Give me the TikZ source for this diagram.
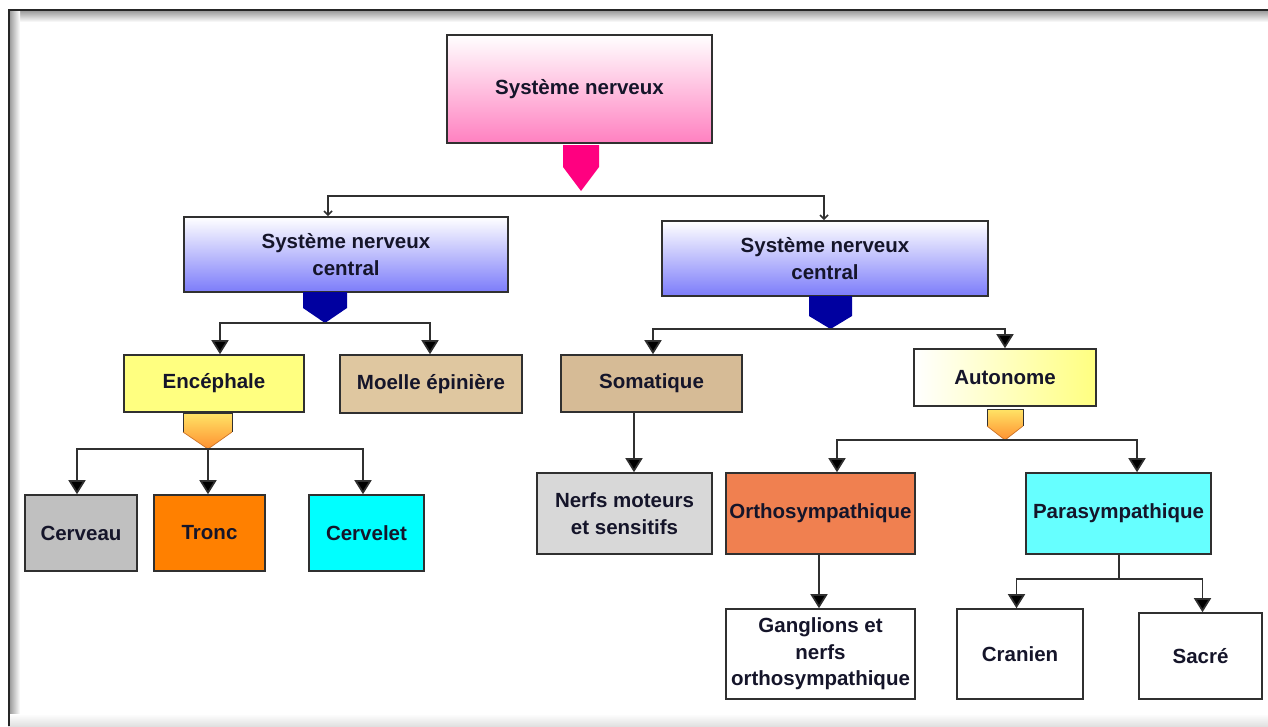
\documentclass[tikz,border=0pt]{standalone}
\usepackage{fontspec}
\setmainfont{Liberation Sans}
\usetikzlibrary{arrows.meta,calc}
\definecolor{txt}{HTML}{15152A}
\definecolor{bd}{HTML}{303030}
\definecolor{pinkc}{HTML}{FF0080}
\definecolor{pinkbot}{HTML}{FF80C0}
\definecolor{bluebot}{HTML}{7C7CFA}
\definecolor{dblue}{HTML}{0000A0}
\definecolor{yel}{HTML}{FFFF80}
\definecolor{moelle}{HTML}{DFC7A0}
\definecolor{soma}{HTML}{D6BB96}
\definecolor{cerv}{HTML}{C0C0C0}
\definecolor{tronc}{HTML}{FF8000}
\definecolor{cyanc}{HTML}{00FFFF}
\definecolor{nerfs}{HTML}{D8D8D8}
\definecolor{ortho}{HTML}{F08050}
\definecolor{para}{HTML}{66FFFF}
\definecolor{ortop}{HTML}{FFE466}
\definecolor{orbot}{HTML}{FF9030}
\tikzset{
  box/.style={draw=bd, line width=1.6pt, inner sep=0pt, align=center, text=txt,
    font=\fontsize{20.5}{26.5}\selectfont\bfseries},
  conn/.style={draw=bd, line width=1.7pt},
  arr/.style={conn, -{Triangle[width=17pt,length=14pt,fill=black]}},
  sarr/.style={conn, -{Straight Barb[length=4pt,width=8pt]}},
}
\begin{document}
\begin{tikzpicture}[x=1pt,y=-1pt]
\useasboundingbox (0,0) rectangle (1268,726);
\fill[white] (0,0) rectangle (1268,726);
% frame shading
\shade[top color=black!45, bottom color=white] (8,9) rectangle (1268,22);
\shade[left color=black!45, right color=white] (8,9) rectangle (20,726);
\shade[top color=white, bottom color=black!12] (8,714) rectangle (1268,726);
\draw[black!85, line width=2pt] (9,726) -- (9,10) -- (1268,10);

% boxes
\node[box, minimum width=265pt, minimum height=108pt, top color=white, bottom color=pinkbot] (root) at (579.5,89) {Système nerveux};
\node[box, minimum width=324pt, minimum height=75pt, top color=white, bottom color=bluebot] (snc1) at (346,254.5) {Système nerveux\\central};
\node[box, minimum width=326pt, minimum height=75pt, top color=white, bottom color=bluebot] (snc2) at (825,258.5) {Système nerveux\\central};
\node[box, minimum width=180pt, minimum height=57pt, fill=yel] (enc) at (214,383.5) {Encéphale};
\node[box, minimum width=182pt, minimum height=58pt, fill=moelle] (moe) at (431,384) {Moelle épinière};
\node[box, minimum width=181pt, minimum height=57pt, fill=soma] (som) at (651.5,383.5) {Somatique};
\node[box, minimum width=182pt, minimum height=57pt, left color=white, right color=yel] (aut) at (1005,377.5) {Autonome};
\node[box, minimum width=112pt, minimum height=76pt, fill=cerv] (cer) at (81,533) {Cerveau};
\node[box, minimum width=111pt, minimum height=76pt, fill=tronc] (tro) at (209.5,533) {Tronc};
\node[box, minimum width=115pt, minimum height=76pt, fill=cyanc] (cvl) at (366.5,533) {Cervelet};
\node[box, minimum width=175pt, minimum height=81pt, fill=nerfs] (ner) at (624.5,513.5) {Nerfs moteurs\\et sensitifs};
\node[box, minimum width=189pt, minimum height=81pt, fill=ortho] (ort) at (820.5,513.5) {Orthosympathique};
\node[box, minimum width=185pt, minimum height=81pt, fill=para] (par) at (1118.5,513.5) {Parasympathique};
\node[box, minimum width=189pt, minimum height=90pt, fill=white] (gan) at (820.5,654) {Ganglions et\\nerfs\\orthosympathique};
\node[box, minimum width=126pt, minimum height=90pt, fill=white] (cra) at (1020,654) {Cranien};
\node[box, minimum width=123pt, minimum height=86pt, fill=white] (sac) at (1200.5,656) {Sacré};

% pentagon connectors
\fill[pinkc] (563,145) -- (599,145) -- (599,167) -- (581,191) -- (563,167) -- cycle;
\fill[dblue] (303,292) -- (347,292) -- (347,308) -- (325,323) -- (303,308) -- cycle;
\fill[dblue] (809,296) -- (852,296) -- (852,316) -- (830.5,329) -- (809,316) -- cycle;
\shade[top color=ortop, bottom color=orbot] (183,413) -- (232,413) -- (232,432) -- (208,449) -- (183,432) -- cycle;
\draw[bd, line width=0.9pt] (183,432) -- (183,413) -- (232,413) -- (232,432);
\draw[orbot!80!black, line width=0.7pt] (183,432) -- (208,449) -- (232,432);
\shade[top color=ortop, bottom color=orbot] (987,409) -- (1023,409) -- (1023,426) -- (1005,440) -- (987,426) -- cycle;
\draw[bd, line width=0.9pt] (987,426) -- (987,409) -- (1023,409) -- (1023,426);
\draw[orbot!80!black, line width=0.7pt] (987,426) -- (1005,440) -- (1023,426);

\coordinate (b0) at (581,196);
\coordinate (b1) at (325,323);
\coordinate (b2) at (830.5,329);
\coordinate (b3) at (208,449);
\coordinate (b4) at (1005,440);

% connectors
\draw[sarr] (b0) -| ([xshift=-18pt]snc1.north);
\draw[sarr] (b0) -| ([xshift=-1pt]snc2.north);
\draw[arr] (b1) -| ([xshift=6pt]enc.north);
\draw[arr] (b1) -| ([xshift=-1pt]moe.north);
\draw[arr] (b2) -| ([xshift=1.5pt]som.north);
\draw[arr] (b2) -| (aut.north);
\draw[arr] (b3) -| ([xshift=-4pt]cer.north);
\draw[arr] (b3) -| ([xshift=-1.5pt]tro.north);
\draw[arr] (b3) -| ([xshift=-3.5pt]cvl.north);
\draw[arr] (b4) -| ([xshift=16.5pt]ort.north);
\draw[arr] (b4) -| ([xshift=18.5pt]par.north);
\draw[arr] ([xshift=-17.5pt]som.south) coordinate (s1) -- (s1 |- ner.north);
\draw[arr] ([xshift=-1.5pt]ort.south) coordinate (o1) -- (o1 |- gan.north);
\draw[conn] ([xshift=0.5pt]par.south) -- ++(0,24) coordinate (b5);
\draw[arr] (b5) -| ([xshift=-3.5pt]cra.north);
\draw[arr] (b5) -| ([xshift=2pt]sac.north);
\end{tikzpicture}
\end{document}
